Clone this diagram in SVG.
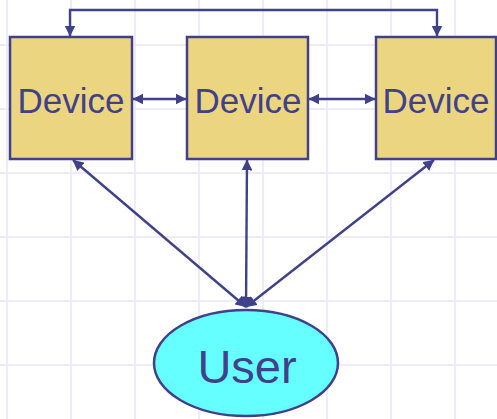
<svg xmlns="http://www.w3.org/2000/svg" width="497" height="419" viewBox="0 0 497 419">
  <style>
    .grid line { stroke: #EFECF9; stroke-width: 2; }
    .device rect { fill: #EBD580; stroke: #40418A; stroke-width: 2.5; }
    .user ellipse { fill: #66FFFF; stroke: #40418A; stroke-width: 2.5; }
    .label { font-family: "Liberation Sans", Arial, sans-serif; fill: #40418A; text-anchor: middle; }
    .conn { fill: none; stroke: #40418A; stroke-width: 2.4; }
  </style>
  <defs>
    <marker id="arrow" viewBox="0 0 10 10" refX="9.5" refY="5" markerWidth="4.6" markerHeight="4.6" orient="auto-start-reverse" markerUnits="strokeWidth">
      <path d="M0,0 L10,5 L0,10 Z" fill="#40418A"/>
    </marker>
  </defs>
  <rect width="497" height="419" fill="#FFFFFF"/>
  <!-- background grid -->
  <g class="grid">
    <line x1="7" y1="0" x2="7" y2="419"/>
    <line x1="71" y1="0" x2="71" y2="419"/>
    <line x1="135" y1="0" x2="135" y2="419"/>
    <line x1="199" y1="0" x2="199" y2="419"/>
    <line x1="263" y1="0" x2="263" y2="419"/>
    <line x1="327" y1="0" x2="327" y2="419"/>
    <line x1="391" y1="0" x2="391" y2="419"/>
    <line x1="455" y1="0" x2="455" y2="419"/>
    <line x1="0" y1="45" x2="497" y2="45"/>
    <line x1="0" y1="109" x2="497" y2="109"/>
    <line x1="0" y1="173" x2="497" y2="173"/>
    <line x1="0" y1="237" x2="497" y2="237"/>
    <line x1="0" y1="301" x2="497" y2="301"/>
    <line x1="0" y1="365" x2="497" y2="365"/>
  </g>
  <!-- connectors -->
  <g id="connectors">
    <path class="conn" d="M70,36 V10 H437 V36" marker-start="url(#arrow)" marker-end="url(#arrow)"/>
    <line class="conn" x1="133" y1="99" x2="186" y2="99" marker-start="url(#arrow)" marker-end="url(#arrow)"/>
    <line class="conn" x1="309" y1="99" x2="375" y2="99" marker-start="url(#arrow)" marker-end="url(#arrow)"/>
    <line class="conn" x1="73" y1="160" x2="246" y2="307" marker-start="url(#arrow)" marker-end="url(#arrow)"/>
    <line class="conn" x1="247" y1="160" x2="246" y2="307" marker-start="url(#arrow)" marker-end="url(#arrow)"/>
    <line class="conn" x1="434" y1="160" x2="246" y2="307" marker-start="url(#arrow)" marker-end="url(#arrow)"/>
  </g>
  <g id="device1" class="device">
    <rect x="10" y="37" width="122" height="122"/>
    <text class="label" x="71" y="113" font-size="35">Device</text>
  </g>
  <g id="device2" class="device">
    <rect x="187" y="37" width="121" height="122"/>
    <text class="label" x="248" y="113" font-size="35">Device</text>
  </g>
  <g id="device3" class="device">
    <rect x="376" y="37" width="120" height="122"/>
    <text class="label" x="436" y="113" font-size="35">Device</text>
  </g>
  <g id="user" class="user">
    <ellipse cx="246" cy="363" rx="92" ry="53"/>
    <text class="label" x="247" y="383" font-size="47">User</text>
  </g>
</svg>
